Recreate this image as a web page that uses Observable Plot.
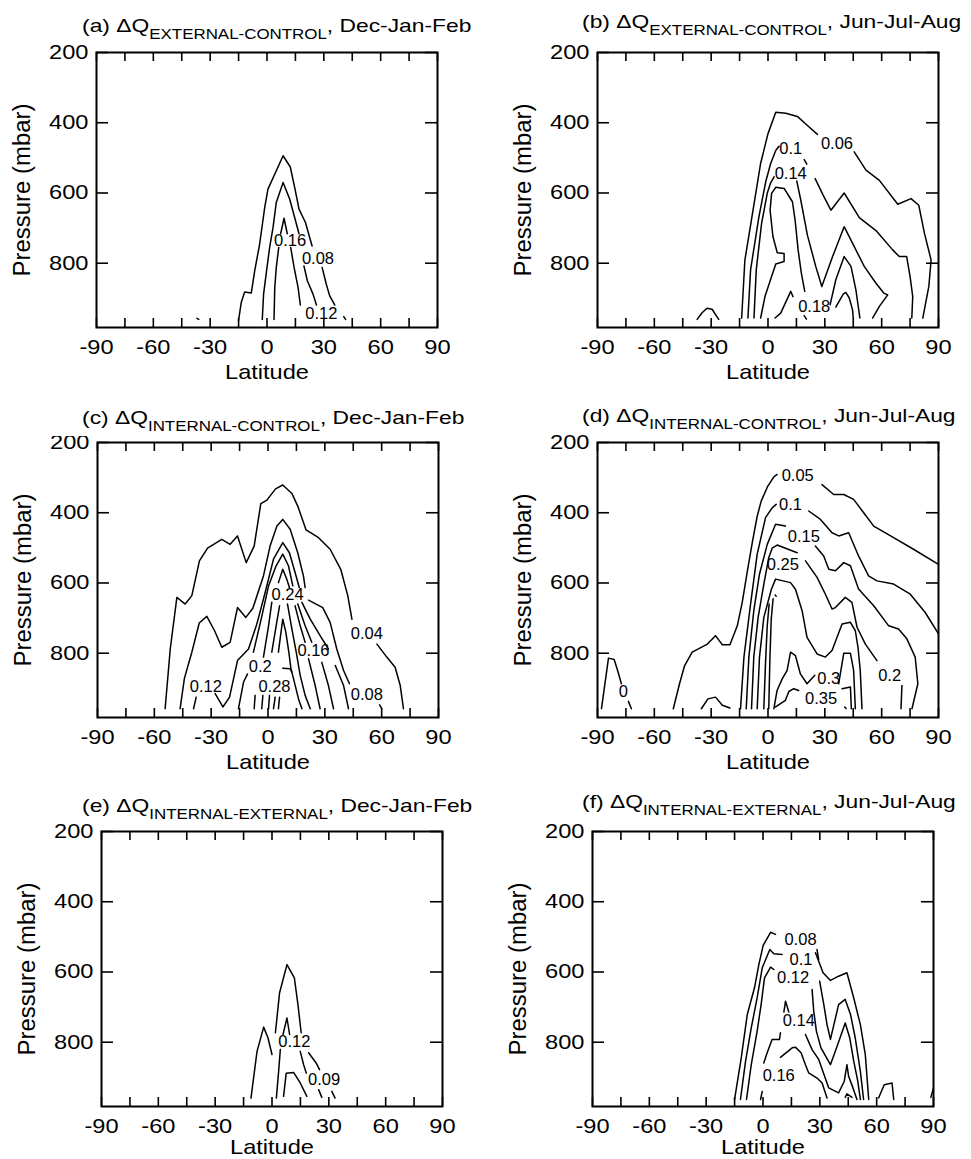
<!DOCTYPE html>
<html><head><meta charset="utf-8">
<script src="https://cdn.jsdelivr.net/npm/d3@7"></script>
<script src="https://cdn.jsdelivr.net/npm/@observablehq/plot@0.6"></script>
<style>
body{margin:0;background:#fff;}
#fig{position:relative;width:971px;height:1159px;overflow:hidden;background:#fff;font-family:"Liberation Sans",Arial,Helvetica,sans-serif;color:#000;}
.panel{position:absolute;z-index:1;}
.title{position:absolute;z-index:2;white-space:nowrap;font-size:19px;font-weight:normal;line-height:19px;background:#fff;transform:scaleX(1.2);transform-origin:0 0;padding:0 2px 4px 33.4px;}
.title sub{font-size:14.1px;line-height:1;vertical-align:-6.5px;}
</style></head><body><div id="fig"></div>
<script>
// ---------- axis values ----------
const latLabels = [-90, -60, -30, 0, 30, 60, 90];
const latMinor = [-90, -75, -60, -45, -30, -15, 0, 15, 30, 45, 60, 75, 90];
const presTicks = [200, 400, 600, 800];
const presDomain = [200, 983];

// ---------- titles ----------
const panelIds = ["a", "b", "c", "d", "e", "f"];
const deltaNames = ["EXTERNAL-CONTROL", "EXTERNAL-CONTROL", "INTERNAL-CONTROL", "INTERNAL-CONTROL", "INTERNAL-EXTERNAL", "INTERNAL-EXTERNAL"];
const seasons = ["Dec-Jan-Feb", "Jun-Jul-Aug", "Dec-Jan-Feb", "Jun-Jul-Aug", "Dec-Jan-Feb", "Jun-Jul-Aug"];

// ---------- contour polylines [latitude, pressure] ----------
const contoursA = [
  {level: 0.08, pts: [[-15.0,962],[-13.6,912],[-11.8,882],[-8.3,885],[-6.5,822],[-3.9,746],[-1.2,641],[0.5,589],[8.5,494],[12.3,526],[14.6,584],[16.9,646],[20.3,684],[23.8,751]]},
  {level: 0.08, pts: [[29.1,812],[31.3,860],[33.1,893],[35.8,919]]},
  {level: 0.08, pts: [[40.5,952],[41.5,960]]},
  {level: 0.12, pts: [[-2.5,960],[-1.8,888],[0,812],[1.4,755],[3.2,698],[4.9,627],[8.5,570],[12,618],[14.6,670],[16.9,716]]},
  {level: 0.12, pts: [[19.5,808],[21.3,850],[24.3,888],[26.1,919]]},
  {level: 0.16, pts: [[7.2,716],[9.0,672],[10.7,716]]},
  {level: 0.16, pts: [[6.2,755],[4.9,812],[4.1,869],[3.7,960]]},
  {level: 0.16, pts: [[12.5,755],[14.3,812],[16.4,869],[17.6,919]]},
  {level: 0.04, pts: [[-37,957],[-36,960]]}
];
const labelsA = [
  {text: "0.16", lat: 12.2, p: 735}, {text: "0.08", lat: 26.9, p: 786}, {text: "0.12", lat: 28.7, p: 943}
];

const contoursB = [
  {level: 0.06, pts: [[-13.9,956],[-12.2,791],[-7.9,649],[-3.9,516],[0,431],[4.1,370],[9.4,373],[15.5,382],[20.8,408],[26.1,433]]},
  {level: 0.06, pts: [[45.5,483],[51.7,535],[58.8,564],[68.5,632],[75.5,616],[79.6,635],[82.6,715],[86.1,791],[84.9,866],[81.7,956]]},
  {level: 0.1, pts: [[-10.6,956],[-9.2,819],[-4.8,668],[-1.2,568],[1.4,516],[4.1,479],[5.8,467]]},
  {level: 0.1, pts: [[19.1,505],[20.5,518]]},
  {level: 0.1, pts: [[24.9,559],[29.1,606],[33.2,649],[40.2,600],[48.2,670],[57,707],[65.8,762],[69.3,781],[73.2,781],[75,838],[76.4,895],[75.9,956]]},
  {level: 0.14, pts: [[-7.4,956],[-6.2,819],[-3.4,687],[-0.4,601],[1.4,571],[3.2,554]]},
  {level: 0.14, pts: [[15.2,566],[17.3,620],[20.8,720],[25.2,809],[28.4,866],[34.1,781],[40.2,696],[44.6,743],[50.8,809],[57,857],[61.1,885],[63.2,890],[58.8,923],[55.2,956]]},
  {level: 0.18, pts: [[-3.9,956],[-1.6,895],[1.9,838],[4.1,802],[8.5,795],[8.5,772],[4.9,770],[2.6,724],[1.1,649],[1.9,601],[4.1,584],[8.5,587],[12.9,625],[14.3,677],[15.9,762],[17.6,828],[19.4,880]]},
  {level: 0.18, pts: [[19.1,949],[20.3,959]]},
  {level: 0.18, pts: [[32.8,918],[35.8,847],[40.2,781],[43.8,809],[46.4,876],[48.5,956]]},
  {level: 0.22, pts: [[3.7,956],[6.7,942],[12,880],[13.2,895]]},
  {level: 0.22, pts: [[35.8,925],[39.7,888],[41.1,883],[42.9,899],[44.6,932],[45,956]]},
  {level: 0.06, pts: [[-37.4,960],[-34.8,941],[-32.2,928],[-29.5,931],[-26,960]]}
];
const labelsB = [
  {text: "0.1", lat: 12, p: 475}, {text: "0.06", lat: 36.4, p: 460}, {text: "0.14", lat: 12, p: 545}, {text: "0.18", lat: 24.4, p: 923}
];

const contoursC = [
  {level: 0.04, pts: [[-54.3,958],[-51.6,788],[-48.1,641],[-43.7,660],[-40.2,636],[-36.2,537],[-31.9,501],[-24.4,476],[-20.0,490],[-16.1,466],[-11.5,542],[-7.3,495],[-3.8,374],[-0.6,364],[4.0,332],[7.8,321],[12.6,345],[15.7,381],[20.1,449],[26.7,471],[32.8,504],[38.4,561],[42.1,636],[44.3,703]]},
  {level: 0.04, pts: [[57.5,774],[62.7,811],[67.1,840],[69.8,892],[71.5,958]]},
  {level: 0.08, pts: [[-46.4,958],[-44.1,871],[-40.2,797],[-36.3,714],[-32.3,695],[-28.2,736],[-24.4,783],[-20.0,769],[-16.1,670],[-11.7,698],[-8.0,672],[-2.4,580],[1.1,495],[4.7,438],[7.8,419],[11.7,447],[15.7,514],[18.7,580],[19.6,613]]},
  {level: 0.08, pts: [[21.4,649],[28.9,670],[32.8,712],[36.3,788],[39.9,849],[43.0,887]]},
  {level: 0.08, pts: [[58.9,947],[60.1,958]]},
  {level: 0.12, pts: [[-39.3,958],[-37.9,925]]},
  {level: 0.12, pts: [[-27.9,915],[-23.8,953],[-20.3,925],[-16.1,821],[-10.3,788],[-5.9,717],[-1.5,627],[2.9,532],[7.8,485],[11.3,514],[14.3,570],[16.5,613]]},
  {level: 0.12, pts: [[17.9,655],[22.3,703],[27.5,750],[31.9,788]]},
  {level: 0.12, pts: [[35.5,835],[39.9,892],[42.5,958]]},
  {level: 0.16, pts: [[-15.6,958],[-12.9,882],[-10.8,859]]},
  {level: 0.16, pts: [[-7.7,797],[-3.6,703],[0.3,608],[4.3,551],[7.8,518],[10.8,551],[13.1,608]]},
  {level: 0.16, pts: [[15.7,660],[19.6,722],[23.1,769]]},
  {level: 0.16, pts: [[28.4,826],[31.9,892],[34.6,958]]},
  {level: 0.2, pts: [[-7.3,958],[-6.8,920]]},
  {level: 0.2, pts: [[-2.4,811],[0.3,722],[2.0,655]]},
  {level: 0.2, pts: [[5.5,599],[7.8,561],[9.9,589],[11.3,613]]},
  {level: 0.2, pts: [[14.3,665],[17.0,722],[19.6,769]]},
  {level: 0.2, pts: [[21.4,816],[24.9,892],[27.5,958]]},
  {level: 0.24, pts: [[-3.3,958],[-2.7,920]]},
  {level: 0.24, pts: [[2.0,797],[4.3,722],[6.1,665]]},
  {level: 0.24, pts: [[10.3,660],[12.6,731],[14.9,797],[17.0,863],[19.6,920],[22.3,958]]},
  {level: 0.28, pts: [[0.3,958],[0.8,920]]},
  {level: 0.28, pts: [[5.5,797],[6.4,759],[7.8,703],[9.4,740],[11.0,797],[12.1,844],[13.5,873],[16.1,930],[17.9,958]]},
  {level: 0.32, pts: [[2.9,958],[3.8,925]]},
  {level: 0.32, pts: [[5.5,958],[6.1,925]]},
  {level: 0.32, pts: [[7.8,843],[11.7,844],[12.6,854]]}
];
const labelsC = [
  {text: "0.24", lat: 10.3, p: 632}, {text: "0.04", lat: 52.2, p: 745}, {text: "0.16", lat: 24.0, p: 794},
  {text: "0.2", lat: -4.1, p: 838}, {text: "0.12", lat: -32.8, p: 895}, {text: "0.28", lat: 3.4, p: 895},
  {text: "0.08", lat: 52.2, p: 918}
];

const contoursD = [
  {level: 0.05, pts: [[-50.0,958],[-46.7,887],[-44.0,835],[-40.0,797],[-32.0,774],[-27.7,750],[-24.1,776],[-20.1,776],[-16.2,722],[-13.6,655],[-11.0,570],[-8.3,485],[-5.7,410],[-3.6,367],[-0.1,324],[3.1,298],[4.8,291]]},
  {level: 0.05, pts: [[28.5,320],[34.7,348],[40.0,348],[45.2,362],[50.5,400],[55.8,438],[66.3,471],[76.8,504],[90,547]]},
  {level: 0.1, pts: [[-35.2,958],[-31.7,930],[-27.7,925],[-24.1,948],[-20.1,956]]},
  {level: 0.1, pts: [[-14.5,958],[-12.7,811],[-9.2,660],[-5.7,518],[-1.3,414],[2.2,386],[4.3,376]]},
  {level: 0.1, pts: [[21.5,395],[27.7,419],[33.8,457],[37.3,466],[42.6,457],[47.8,523],[53.1,580],[57.5,594],[66.3,603],[75.1,632],[83.0,684],[90,745]]},
  {level: 0.15, pts: [[-11.5,958],[-10.1,811],[-7.5,679],[-4.5,575],[-0.4,490],[4.0,433],[9.2,438]]},
  {level: 0.15, pts: [[25.0,495],[29.4,523],[32.1,561],[35.6,565],[40.0,542],[43.5,551],[47.8,617],[55.8,665],[63.7,722],[68.9,731],[73.3,759],[77.7,811],[79.1,887],[76.0,958]]},
  {level: 0.2, pts: [[-8.7,958],[-7.5,811],[-5.2,698],[-2.2,603],[0.4,528],[2.2,501],[4.8,492],[15.4,514]]},
  {level: 0.2, pts: [[19.8,537],[25.9,584],[30.3,632],[33.8,674],[35.6,670],[40.8,641],[44.3,655],[47.0,726],[51.4,774],[57.5,821]]},
  {level: 0.2, pts: [[70.7,892],[70.2,958]]},
  {level: 0.25, pts: [[-5.7,958],[-4.5,811],[-2.2,698],[1.8,618],[4.0,589],[11.9,599],[14.5,618],[18.0,679],[20.6,755],[25.9,802],[30.3,811],[33.8,792],[39.1,717],[43.5,712],[46.1,736],[47.5,783],[48.7,849],[49.6,958]]},
  {level: 0.3, pts: [[-2.2,958],[-1.3,826],[-0.4,722],[0.6,660]]},
  {level: 0.3, pts: [[0.4,958],[1.0,816],[1.7,703],[2.7,645]]},
  {level: 0.3, pts: [[3.1,958],[4.8,906],[7.5,873],[10.1,849],[11.9,797],[14.5,807],[17.1,859],[20.6,887],[24.7,863]]},
  {level: 0.3, pts: [[37.3,887],[40.0,800],[43.5,800],[45.2,849],[46.1,958]]},
  {level: 0.35, pts: [[4.0,953],[9.2,934],[11.0,909],[13.6,901],[16.2,906]]},
  {level: 0.35, pts: [[39.1,901],[43.5,896],[44.0,958]]},
  {level: 0.35, pts: [[40.5,953],[41.2,957]]},
  {level: 0.3, pts: [[3.8,634],[4.3,638]]},
  {level: 0, pts: [[-87.9,958],[-84.2,814],[-81.2,818],[-79.1,854],[-77.4,887]]},
  {level: 0, pts: [[-73.7,937],[-72.1,958]]}
];
const labelsD = [
  {text: "0.05", lat: 15.7, p: 296}, {text: "0.1", lat: 11.9, p: 376}, {text: "0.15", lat: 18.9, p: 468},
  {text: "0.25", lat: 7.8, p: 547}, {text: "0.3", lat: 32.1, p: 873}, {text: "0.35", lat: 28.0, p: 930},
  {text: "0.2", lat: 64.2, p: 863}, {text: "0", lat: -76.3, p: 909}
];

const contoursE = [
  {level: 0.06, pts: [[-11.1,959],[-7.9,826],[-4.4,757],[-2.1,788],[0,835]]},
  {level: 0.09, pts: [[1.8,773],[4.0,659],[7.9,579],[11.8,617],[13.7,693],[15.4,773]]},
  {level: 0.09, pts: [[19.3,830],[23.3,859],[25.1,878]]},
  {level: 0.09, pts: [[31.6,940],[33.3,959]]},
  {level: 0.12, pts: [[5.8,778],[7.9,731],[9.3,778]]},
  {level: 0.12, pts: [[4.4,821],[3.5,883],[2.3,959]]},
  {level: 0.12, pts: [[14.9,826],[16.7,864],[18.1,888]]},
  {level: 0.12, pts: [[24.6,935],[26.3,957]]},
  {level: 0.15, pts: [[6.1,954],[7.5,888],[11.4,886],[14.9,916],[18.4,954]]}
];
const labelsE = [
  {text: "0.12", lat: 11.8, p: 799}, {text: "0.09", lat: 27.5, p: 908}
];

const contoursF = [
  {level: 0.08, pts: [[-15.0,963],[-11.5,845],[-8.3,721],[-4.5,645],[-2.2,579],[0.1,524],[4.0,487],[6.6,493]]},
  {level: 0.08, pts: [[27.7,545],[31.7,602],[35.6,624],[39.9,612],[44.3,602],[47.9,674],[51.4,750],[54.0,835],[55.8,963]]},
  {level: 0.1, pts: [[-11.9,963],[-9.2,854],[-6.2,759],[-3.1,674],[-0.4,588],[3.6,536],[5.7,548],[10.1,550]]},
  {level: 0.1, pts: [[28.5,536],[29.4,564]]},
  {level: 0.1, pts: [[29.9,626],[32.1,693],[33.8,750],[35.6,792],[39.9,693],[43.4,678],[46.2,721],[48.7,788],[51.4,883],[53.1,963]]},
  {level: 0.12, pts: [[-8.7,963],[-6.2,864],[-3.1,769],[-1.0,693],[0.8,617],[4.0,586],[5.7,593]]},
  {level: 0.12, pts: [[25.9,650],[26.8,712],[28.2,769],[30.6,816],[35.6,864],[39.4,807],[43.4,745],[45.8,788],[47.9,854],[50.0,910],[51.4,963]]},
  {level: 0.14, pts: [[11.0,714],[11.9,683],[13.6,714]]},
  {level: 0.14, pts: [[9.2,773],[8.7,792],[4.8,792],[2.2,830],[0.4,859]]},
  {level: 0.14, pts: [[-0.4,940],[-1.3,963]]},
  {level: 0.14, pts: [[22.4,778],[25.9,821],[29.4,849],[34.7,930],[39.9,944],[42.9,911],[44.3,864],[45.2,897],[47.5,930],[49.6,963]]},
  {level: 0.16, pts: [[9.2,843],[15.4,816],[17.1,814],[20.1,830],[22.4,864],[24.1,887],[28.5,902],[31.2,916],[33.8,959]]},
  {level: 0.16, pts: [[43.4,957],[44.3,947],[47.0,957]]},
  {level: 0.08, pts: [[61.0,959],[64.0,921],[68.1,916],[69.0,963]]},
  {level: 0.08, pts: [[88.6,957],[90,930]]}
];
const labelsF = [
  {text: "0.08", lat: 19.8, p: 507}, {text: "0.1", lat: 20.1, p: 564}, {text: "0.12", lat: 15.9, p: 617},
  {text: "0.14", lat: 18.9, p: 740}, {text: "0.16", lat: 8.3, p: 894}
];

const allContours = [contoursA, contoursB, contoursC, contoursD, contoursE, contoursF];
const allLabels = [labelsA, labelsB, labelsC, labelsD, labelsE, labelsF];

// ---------- layout (pixels) ----------
const layout = [
  {L: 96.0,  T: 51.7,  tx: 81.7,  tb: 32,  xl: 37},
  {L: 596.7, T: 51.7,  tx: 581.7, tb: 28,  xl: 37},
  {L: 97.3,  T: 441.7, tx: 81.7,  tb: 424, xl: 37},
  {L: 596.7, T: 441.7, tx: 581.7, tb: 422, xl: 37},
  {L: 100.7, T: 830.7, tx: 81.7,  tb: 812, xl: 32.5},
  {L: 591.7, T: 830.7, tx: 581.7, tb: 808, xl: 32.5}
];
const W = 341, H = 275, mL = 96, mR = 22, mT = 12, mB = 60;
const TS = 1.2; // horizontal stretch of titles
const FONT = '"Liberation Sans", Arial, Helvetica, sans-serif';

const fig = document.getElementById("fig");

function stretchTexts(svg) {
  svg.querySelectorAll("text").forEach(t => {
    const g = t.closest("g[aria-label]");
    const lab = g ? (g.getAttribute("aria-label") || "") : "";
    const s = t.textContent;
    let target = null;
    if (/tick label/.test(lab)) target = t.getComputedTextLength() * 1.18;
    else if (s === "Latitude") target = 84;
    else if (s === "Pressure (mbar)") target = 173;
    if (target) {
      t.setAttribute("textLength", target.toFixed(1));
      t.setAttribute("lengthAdjust", "spacingAndGlyphs");
    }
  });
}

panelIds.forEach((id, i) => {
  const lay = layout[i];
  const rows = allContours[i].flatMap((s, k) => s.pts.map(([lat, p]) => ({lat, p, seg: k, level: s.level})));
  const svg = Plot.plot({
    width: mL + W + mR, height: mT + H + mB,
    marginLeft: mL, marginRight: mR, marginTop: mT, marginBottom: mB,
    style: {fontFamily: FONT, color: "#000", background: "transparent", overflow: "visible"},
    x: {domain: [-90, 90]},
    y: {domain: presDomain, reverse: true},
    marks: [
      Plot.line(rows, {x: "lat", y: "p", z: "seg", stroke: "#000", strokeWidth: 1.5}),
      Plot.text(allLabels[i], {x: "lat", y: "p", text: "text", fontSize: 16.5, fill: "#000"}),
      Plot.tickX(latMinor, {x: d => d, insetTop: H - 9, stroke: "#000", strokeWidth: 1.6}),
      Plot.tickX(latMinor, {x: d => d, insetBottom: H - 9, stroke: "#000", strokeWidth: 1.6}),
      Plot.tickY(presTicks, {y: d => d, insetRight: W - 12, stroke: "#000", strokeWidth: 1.6}),
      Plot.tickY(presTicks, {y: d => d, insetLeft: W - 12, stroke: "#000", strokeWidth: 1.6}),
      Plot.frame({stroke: "#000", strokeWidth: 2}),
      Plot.axisX(latLabels, {anchor: "bottom", tickSize: 0, tickPadding: 12, tickFormat: d => String(d), fontSize: 20, label: null, fill: "#000"}),
      Plot.axisY(presTicks, {anchor: "left", tickSize: 0, tickPadding: 8, tickFormat: d => String(d), fontSize: 20, label: null, fill: "#000"}),
      Plot.text(["Latitude"], {frameAnchor: "bottom", text: d => d, dy: lay.xl, lineAnchor: "top", textAnchor: "middle", fontSize: 21, fill: "#000"}),
      Plot.text(["Pressure (mbar)"], {frameAnchor: "left", text: d => d, rotate: -90, dx: -73.5, textAnchor: "middle", fontSize: 23, fill: "#000"})
    ]
  });
  const holder = document.createElement("div");
  holder.className = "panel";
  holder.style.left = (lay.L - mL) + "px";
  holder.style.top = (lay.T - mT) + "px";
  holder.appendChild(svg);
  fig.appendChild(holder);
  stretchTexts(svg);

  const t = document.createElement("div");
  t.className = "title";
  t.style.left = (lay.tx - TS * 33.4) + "px";
  t.style.top = (lay.tb - 16.1) + "px";
  t.innerHTML = "(" + id + ") \u0394Q<sub>" + deltaNames[i] + "</sub>, " + seasons[i];
  fig.appendChild(t);
});
</script></body></html>
